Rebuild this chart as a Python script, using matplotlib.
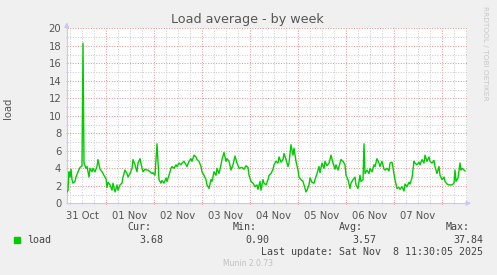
import numpy as np
import matplotlib
matplotlib.use("Agg")
import matplotlib.pyplot as plt
from matplotlib.ticker import MultipleLocator

# hours since 31 Oct 00:00, and the 1-minute load average
hours = [4.5, 5, 5.5, 6, 6.5, 7, 7.5, 8.5, 9, 10, 11, 11.5, 12, 12.5, 13, 14, 14.5, 15.5, 16, 17,
         17.5, 18.5, 19.5, 20, 21, 22, 22.5, 23.5, 24, 24.5, 25, 26, 27, 27.5, 28.5, 29.5, 30, 31, 32, 32.5,
         33.5, 34.5, 35, 36, 37, 37.5, 38.5, 39.5, 40, 41, 42, 42.5, 43.5, 44.5, 45, 46, 47, 47.5, 48.5, 49.5,
         50.5, 51.5, 52, 53, 54, 54.5, 55.5, 56.5, 57, 58, 59, 59.5, 60.5, 61.5, 62, 63, 64, 64.5, 65.5, 66.5,
         67, 68, 69, 69.5, 70.5, 71.5, 72, 73, 74, 74.5, 75.5, 76.5, 77, 78, 79, 79.5, 80.5, 81.5, 82, 83,
         84, 84.5, 85.5, 86.5, 87.5, 88.5, 89.5, 90.5, 92, 93, 94, 95, 95.5, 96.5, 97.5, 98.5, 99.5, 100, 101, 101.5,
         102.5, 103, 104, 105, 105.5, 106.5, 107.5, 108, 109, 110, 110.5, 111.5, 112.5, 113, 114, 115, 115.5, 116.5, 117.5, 118,
         119, 120, 120.5, 121.5, 122.5, 123, 124, 124.5, 125.5, 126, 127, 128, 128.5, 129.5, 130.5, 131, 132, 133, 133.5, 134.5,
         135.5, 136, 136.5, 137.5, 138.5, 139, 140, 141, 141.5, 142.5, 143.5, 144, 145, 146, 146.5, 147.5, 148.5, 149, 150, 151,
         151.5, 152.5, 153, 153.5, 154.5, 155.5, 156, 157, 158, 158.5, 159.5, 160.5, 161, 162, 163, 163.5, 164.5, 165.5, 166, 167,
         168, 168.5, 169.5, 170.5, 171, 172, 173, 173.5, 174.5, 175.5, 176, 177, 178, 178.5, 179.5, 180.5, 181, 182, 183, 183.5,
         184.5, 185.5, 186, 187, 188, 188.5, 189.5, 190.5, 191, 192, 193, 193.5, 194.5, 195.5, 196, 197, 198, 198.5, 199, 200,
         201, 201.5, 202, 203, 203.5]
load = [1.3, 1.5, 3.6, 3.0, 3.9, 2.7, 2.3, 2.5, 3.0, 3.6, 4.1, 4.2, 4.3, 18.3, 4.6, 4.0, 4.2, 3.0, 4.0, 3.6,
        4.0, 3.6, 4.2, 5.0, 3.9, 3.6, 3.4, 3.0, 2.8, 1.8, 2.4, 2.1, 1.5, 2.3, 1.3, 2.1, 1.5, 2.1, 2.3, 3.0,
        3.8, 3.4, 3.0, 3.4, 4.0, 5.0, 4.4, 3.6, 4.6, 5.1, 4.0, 3.6, 3.9, 3.8, 3.8, 3.6, 3.4, 3.5, 3.2, 6.8,
        2.7, 2.3, 2.6, 2.3, 2.9, 2.5, 3.2, 4.0, 4.2, 4.0, 4.4, 4.2, 4.6, 4.4, 4.6, 4.8, 4.4, 4.2, 4.8, 5.1,
        4.8, 5.5, 5.3, 5.0, 4.8, 4.2, 3.6, 3.2, 2.7, 2.1, 1.7, 2.7, 2.5, 3.6, 3.2, 4.0, 3.4, 4.4, 5.0, 5.8,
        4.8, 5.1, 4.8, 3.8, 4.4, 5.4, 4.6, 4.0, 4.1, 3.9, 4.3, 4.1, 3.2, 2.5, 2.3, 1.9, 2.1, 1.6, 2.5, 1.5,
        2.7, 2.3, 2.1, 2.7, 3.2, 3.4, 3.9, 4.4, 4.8, 4.6, 5.3, 4.7, 5.0, 5.7, 5.0, 4.2, 4.6, 6.7, 5.5, 6.3,
        4.8, 3.8, 3.0, 2.7, 2.5, 2.1, 1.3, 1.5, 2.1, 2.9, 2.4, 2.3, 2.7, 3.4, 4.2, 3.5, 4.6, 4.0, 4.8, 4.3,
        4.6, 5.0, 5.5, 4.6, 3.9, 4.4, 3.8, 4.6, 5.0, 4.8, 4.4, 3.2, 2.7, 1.7, 2.3, 2.7, 3.0, 2.1, 1.7, 3.2,
        2.5, 2.7, 6.8, 3.4, 3.8, 3.4, 4.0, 3.6, 4.4, 4.2, 5.1, 4.6, 4.2, 4.8, 3.9, 3.8, 4.0, 3.7, 4.6, 4.7,
        3.4, 2.7, 1.7, 1.8, 1.6, 1.9, 1.4, 2.2, 1.9, 2.4, 2.2, 2.9, 4.8, 4.6, 4.4, 4.7, 4.4, 5.0, 4.6, 5.5,
        4.8, 5.3, 4.8, 4.6, 4.9, 4.2, 3.4, 4.2, 3.2, 2.7, 3.0, 2.5, 2.2, 2.1, 2.1, 2.1, 2.3, 3.8, 2.5, 2.9,
        4.6, 3.8, 4.0, 3.8, 3.7]

day_labels = ["31 Oct", "01 Nov", "02 Nov", "03 Nov", "04 Nov", "05 Nov", "06 Nov", "07 Nov"]
legend_heads = ["Cur:", "Min:", "Avg:", "Max:"]
legend_vals = ["3.68", "0.90", "3.57", "37.84"]
last_update = "Last update: Sat Nov  8 11:30:05 2025"

BG = "#F0F0F0"
TXT = "#555555"
AXC = "#C8C8F8"

fig = plt.figure(figsize=(4.97, 2.75), dpi=100, facecolor=BG)
ax = fig.add_axes([66.7 / 497, 1 - 203.3 / 275, 400.5 / 497, 175 / 275])
ax.set_facecolor("white")

ax.set_xlim(4.35, 204.6)
ax.set_ylim(0, 20)

# grid: minor grey every 6 h / 1 unit, major red every day / 2 units
ax.xaxis.set_major_locator(MultipleLocator(24))
ax.xaxis.set_minor_locator(MultipleLocator(6))
ax.yaxis.set_major_locator(MultipleLocator(2))
ax.yaxis.set_minor_locator(MultipleLocator(1))
ax.grid(which="minor", color="#CFCFCF", linestyle=(0, (1, 1.5)), linewidth=0.75)
ax.grid(which="major", color="#E49A9A", linestyle=(0, (1, 1.5)), linewidth=0.75)
ax.set_axisbelow(True)

ax.plot(hours, load, color="#00CC00", linewidth=1.0, zorder=3, solid_joinstyle="round")

for s in ["top", "right"]:
    ax.spines[s].set_visible(False)
for s in ["left", "bottom"]:
    ax.spines[s].set_color(AXC)
    ax.spines[s].set_linewidth(0.8)

ax.tick_params(which="both", length=2, width=0.7, colors=AXC, direction="inout")
ax.tick_params(which="major", colors="#E08080")
ax.tick_params(axis="y", which="major", colors="#C0C0C0")
ax.tick_params(labelsize=7.2, labelcolor=TXT, pad=3)

ax.set_yticks(range(0, 21, 2))
ax.set_xticklabels([])
for i, lab in enumerate(day_labels):
    ax.text(12 + 24 * i, -0.9, lab, ha="center", va="top", fontsize=7.2, color=TXT)

# axis arrows
ax.annotate("", xy=(4.35, 21.0), xytext=(4.35, 19.8), xycoords="data",
            arrowprops=dict(arrowstyle="-|>", color=AXC, lw=0.8, mutation_scale=7),
            annotation_clip=False)
ax.annotate("", xy=(208.0, 0), xytext=(203.5, 0),
            arrowprops=dict(arrowstyle="-|>", color=AXC, lw=0.8, mutation_scale=7),
            annotation_clip=False)

fig.text(247 / 497, 1 - 19.5 / 275, "Load average - by week", ha="center", va="center",
         fontsize=9.2, color="#555555")
fig.text(8 / 497, 1 - 108 / 275, "load", rotation=90, ha="center", va="center",
         fontsize=7.2, color=TXT)
fig.text(485 / 497, 1 - 53 / 275, "RRDTOOL / TOBI OETIKER", rotation=270, ha="center",
         va="center", fontsize=5.3, color="#C8C8C8")

mono = "DejaVu Sans Mono"
head_right = [151, 257, 363, 470]
val_right = [163, 269, 376, 483]
for h, x in zip(legend_heads, head_right):
    fig.text(x / 497, 1 - 227.5 / 275, h, ha="right", va="center", fontsize=7.2,
             family=mono, color="#444444")
for v, x in zip(legend_vals, val_right):
    fig.text(x / 497, 1 - 240 / 275, v, ha="right", va="center", fontsize=7.2,
             family=mono, color="#444444")
fig.patches.append(plt.Rectangle((14 / 497, 1 - 243 / 275), 6 / 497, 6 / 275,
                                 transform=fig.transFigure, color="#00CC00"))
fig.text(27 / 497, 1 - 240 / 275, "load", ha="left", va="center", fontsize=7.2,
         family=mono, color="#444444")
fig.text(483 / 497, 1 - 252 / 275, last_update, ha="right", va="center", fontsize=7.2,
         family=mono, color="#444444")
fig.text(248 / 497, 1 - 264 / 275, "Munin 2.0.73", ha="center", va="center",
         fontsize=5.5, color="#C0C0C0")

fig.savefig("out.png", dpi=100, facecolor=BG)
